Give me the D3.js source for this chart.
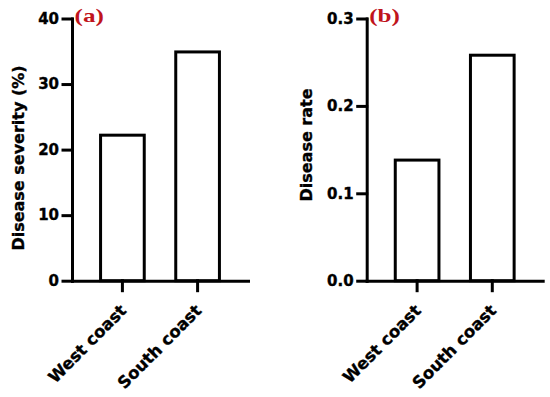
<!DOCTYPE html>
<html>
<head>
<meta charset="utf-8">
<script src="https://cdn.jsdelivr.net/npm/d3@7"></script>
<style>
  body { margin: 0; background: #fff; }
  svg { display: block; }
  .axis path, .axis line { stroke: #000; stroke-width: 3; stroke-linecap: square; }
  .axis text { font-family: "DejaVu Sans", sans-serif; font-weight: bold; fill: #000;
    stroke: #000; stroke-width: 0.35; }
</style>
</head>
<body>
<div id="chart"></div>
<script>
var svgWidth = 550;
var svgHeight = 397;

// data
var categories = ["West coast", "South coast"];
var severity = [22.2, 34.9];
var rate = [0.138, 0.258];
var severityTicks = [0, 10, 20, 30, 40];
var rateTicks = [0, 0.1, 0.2, 0.3];

var plotTop = 18.5;
var plotBottom = 280.7;
var plotWidth = 176;

var svg = d3.select("#chart")
  .append("svg")
  .attr("width", svgWidth)
  .attr("height", svgHeight);

function drawPanel(left, values, ticks, yMax, fmt, yTitle, titleX, titleY, letter) {
  var g = svg.append("g")
    .attr("transform", `translate(${left}, 0)`);

  var x = d3.scaleBand()
    .domain(categories)
    .range([0, plotWidth])
    .paddingInner(0.419)
    .paddingOuter(0.38);

  var y = d3.scaleLinear()
    .domain([0, yMax])
    .range([plotBottom, plotTop]);

  // bars
  g.selectAll("rect.bar")
    .data(values)
    .enter()
    .append("rect")
    .attr("class", "bar")
    .attr("x", (d, i) => x(categories[i]))
    .attr("width", x.bandwidth())
    .attr("y", d => y(d))
    .attr("height", d => y(0) - y(d))
    .attr("fill", "#fff")
    .attr("stroke", "#000")
    .attr("stroke-width", 3);

  // y axis
  var yAxis = g.append("g")
    .attr("class", "axis")
    .call(d3.axisLeft(y).tickValues(ticks).tickFormat(fmt)
      .tickSize(9).tickSizeOuter(0).tickPadding(4));
  yAxis.selectAll("text").style("font-size", "15px");

  // x axis
  var xAxis = g.append("g")
    .attr("class", "axis")
    .attr("transform", `translate(0, ${plotBottom})`)
    .call(d3.axisBottom(x).tickSize(10).tickSizeOuter(0));
  xAxis.selectAll("text")
    .style("font-size", "16.5px")
    .attr("text-anchor", "end")
    .attr("dy", null)
    .attr("y", null)
    .attr("transform", "translate(5, 31) rotate(-45)");

  // y title
  g.append("text")
    .attr("transform", `translate(${titleX - left}, ${titleY}) rotate(-90)`)
    .attr("text-anchor", "middle")
    .style("font-family", "DejaVu Sans, sans-serif")
    .style("font-weight", "bold")
    .style("font-size", "16px")
    .style("stroke", "#000")
    .style("stroke-width", 0.35)
    .text(yTitle);

  // panel letter
  g.append("text")
    .attr("transform", "translate(2.5, 21.5) scale(1.4, 1)")
    .style("font-family", "Liberation Serif, serif")
    .style("font-weight", "bold")
    .style("font-size", "18px")
    .attr("fill", "#c0141c")
    .text(letter);
}

drawPanel(72, severity, severityTicks, 40, d3.format("d"), "Disease severity (%)", 24, 158, "(a)");
drawPanel(366.7, rate, rateTicks, 0.3, d3.format(".1f"), "Disease rate", 311.5, 145, "(b)");
</script>
</body>
</html>
